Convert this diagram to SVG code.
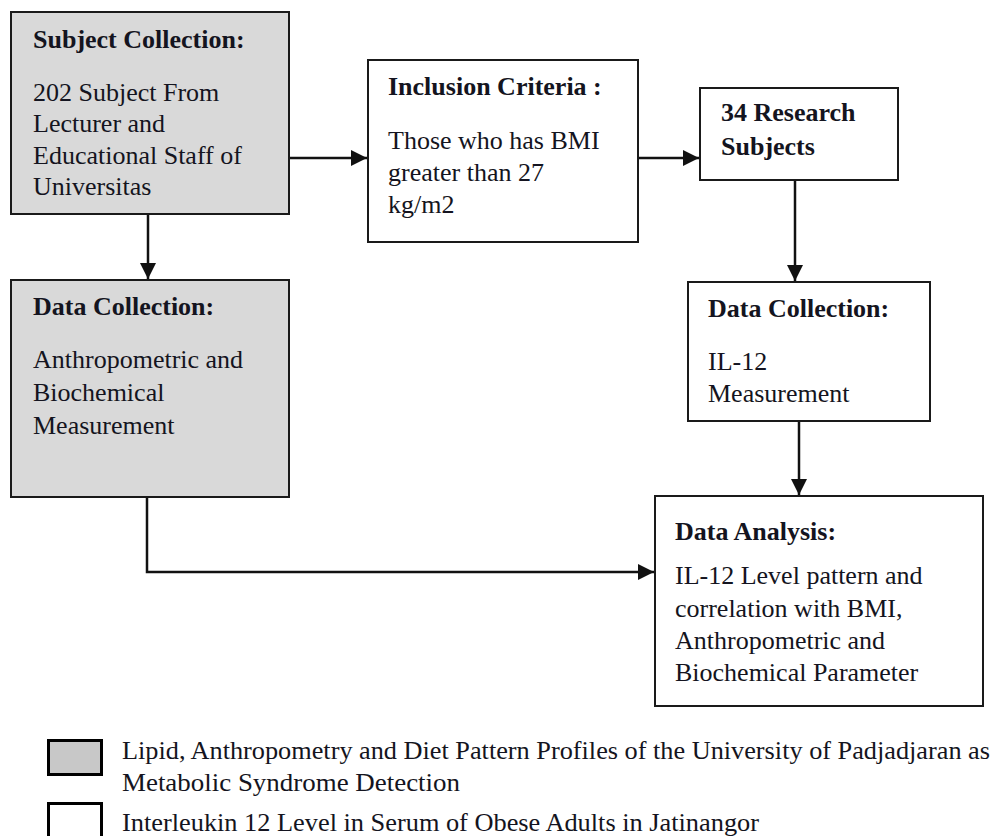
<svg xmlns="http://www.w3.org/2000/svg" width="995" height="836" viewBox="0 0 995 836">
<style>
.box{stroke:#1a1a1a;stroke-width:2}
.gray{fill:#d9d9d9}
.white{fill:#ffffff}
.t{font-family:"Liberation Serif","Times New Roman",serif;font-size:26px;fill:#141420}
.b{font-weight:bold}
.lg{font-family:"Liberation Serif","Times New Roman",serif;font-size:25px;fill:#141420}
.c{stroke:#111;stroke-width:2.5;fill:none}
</style>
<defs>
<marker id="ah" viewBox="0 0 10 10" refX="10" refY="5" markerWidth="6.5" markerHeight="6.5" orient="auto" markerUnits="strokeWidth">
<path d="M0,0 L10,5 L0,10 Z" fill="#111"/>
</marker>
</defs>
<rect width="995" height="836" fill="#fff"/>
<g id="connectors">
<line class="c" x1="289" y1="158" x2="367" y2="158" marker-end="url(#ah)"/>
<line class="c" x1="639" y1="158" x2="699" y2="158" marker-end="url(#ah)"/>
<line class="c" x1="148" y1="214" x2="148" y2="279" marker-end="url(#ah)"/>
<line class="c" x1="795" y1="180" x2="795" y2="281" marker-end="url(#ah)"/>
<line class="c" x1="799" y1="421" x2="799" y2="495" marker-end="url(#ah)"/>
<polyline class="c" points="147,497 147,572 654,572" marker-end="url(#ah)"/>
</g>
<g id="subject-collection">
<rect class="box gray" x="11" y="12" width="278" height="202"/>
<text class="t b" x="33" y="48">Subject Collection:</text>
<text class="t" x="33" y="101">202 Subject From</text>
<text class="t" x="33" y="132">Lecturer and</text>
<text class="t" x="33" y="164">Educational Staff of</text>
<text class="t" x="33" y="195">Universitas</text>
</g>
<g id="inclusion-criteria">
<rect class="box white" x="368" y="60" width="270" height="182"/>
<text class="t b" x="388" y="95">Inclusion Criteria :</text>
<text class="t" x="388" y="149">Those who has BMI</text>
<text class="t" x="388" y="181">greater than 27</text>
<text class="t" x="388" y="213">kg/m2</text>
</g>
<g id="research-subjects">
<rect class="box white" x="700" y="88" width="198" height="92"/>
<text class="t b" x="721" y="121">34 Research</text>
<text class="t b" x="721" y="155">Subjects</text>
</g>
<g id="data-collection-1">
<rect class="box gray" x="11" y="280" width="278" height="217"/>
<text class="t b" x="33" y="315">Data Collection:</text>
<text class="t" x="33" y="368">Anthropometric and</text>
<text class="t" x="33" y="401">Biochemical</text>
<text class="t" x="33" y="434">Measurement</text>
</g>
<g id="data-collection-2">
<rect class="box white" x="688" y="282" width="242" height="139"/>
<text class="t b" x="708" y="317">Data Collection:</text>
<text class="t" x="708" y="370">IL-12</text>
<text class="t" x="708" y="402">Measurement</text>
</g>
<g id="data-analysis">
<rect class="box white" x="655" y="496" width="328" height="210"/>
<text class="t b" x="675" y="540">Data Analysis:</text>
<text class="t" x="675" y="584">IL-12 Level pattern and</text>
<text class="t" x="675" y="617">correlation with BMI,</text>
<text class="t" x="675" y="649">Anthropometric and</text>
<text class="t" x="675" y="681">Biochemical Parameter</text>
</g>
<g id="legend">
<rect x="48.5" y="740.5" width="53" height="34" fill="#c8c8c8" stroke="#000" stroke-width="3"/>
<rect x="48.5" y="803.5" width="53" height="40" fill="#fff" stroke="#000" stroke-width="3"/>
<text class="lg" x="122" y="759" textLength="868" lengthAdjust="spacingAndGlyphs">Lipid, Anthropometry and Diet Pattern Profiles of the University of Padjadjaran as</text>
<text class="lg" x="122" y="791" textLength="338" lengthAdjust="spacingAndGlyphs">Metabolic Syndrome Detection</text>
<text class="lg" x="122" y="831" textLength="637" lengthAdjust="spacingAndGlyphs">Interleukin 12 Level in Serum of Obese Adults in Jatinangor</text>
</g>
</svg>
